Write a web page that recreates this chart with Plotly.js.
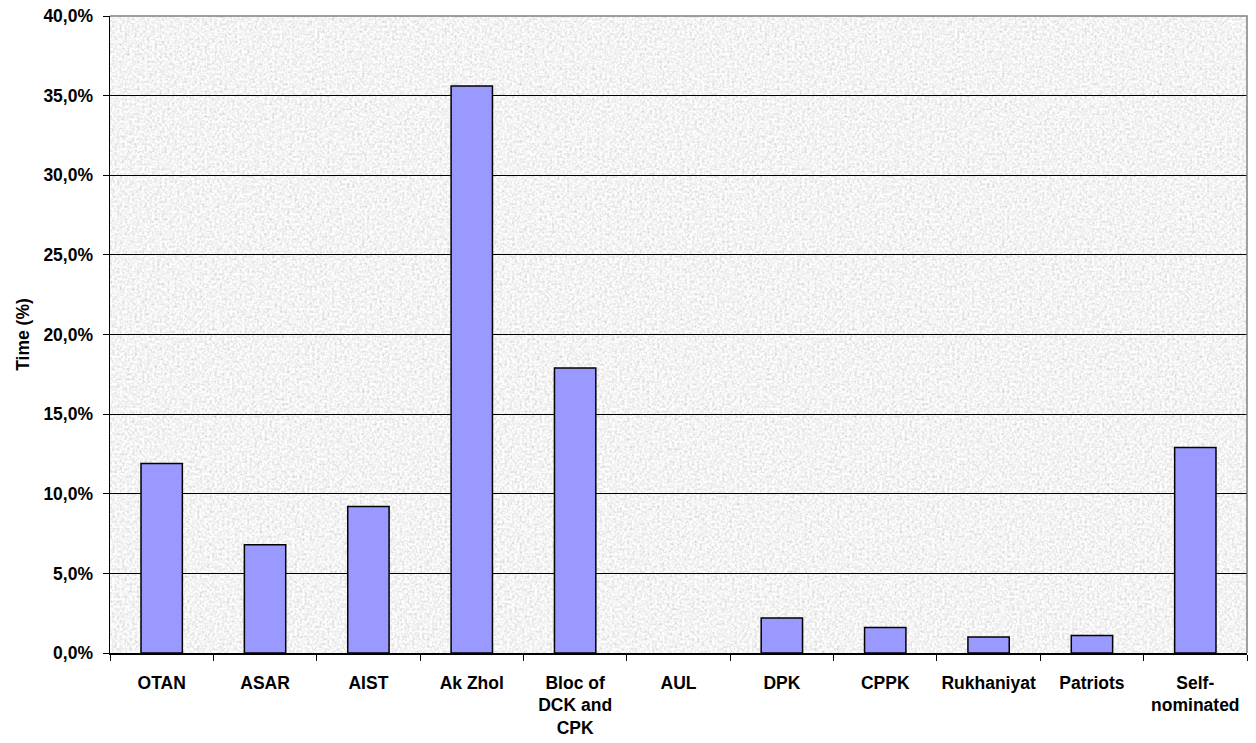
<!DOCTYPE html>
<html>
<head>
<meta charset="utf-8">
<script src="https://cdn.plot.ly/plotly-3.0.1.min.js"></script>
<style>html,body{margin:0;padding:0;background:#fff;}#chart{width:1256px;height:743px;}</style>
</head>
<body>
<div id="chart"></div>
<script>
// Data (percent of time)
var categories = ["OTAN", "ASAR", "AIST", "Ak Zhol", "Bloc of<br>DCK and<br>CPK", "AUL", "DPK", "CPPK", "Rukhaniyat", "Patriots", "Self-<br>nominated"];
var timeShare = [11.9, 6.8, 9.2, 35.6, 17.9, 0, 2.2, 1.6, 1.0, 1.1, 12.9];
var yTickValues = [0, 5, 10, 15, 20, 25, 30, 35, 40];

var noiseSvg = "<svg xmlns='http://www.w3.org/2000/svg' width='1137' height='637'>" +
  "<filter id='n' x='0' y='0' width='100%' height='100%'>" +
  "<feTurbulence type='fractalNoise' baseFrequency='0.4' numOctaves='3' seed='7'/>" +
  "<feColorMatrix type='saturate' values='0'/>" +
  "<feComponentTransfer>" +
  "<feFuncR type='linear' slope='0.8' intercept='0.5'/>" +
  "<feFuncG type='linear' slope='0.8' intercept='0.5'/>" +
  "<feFuncB type='linear' slope='0.8' intercept='0.5'/>" +
  "<feFuncA type='linear' slope='0' intercept='1'/>" +
  "</feComponentTransfer></filter>" +
  "<rect width='100%' height='100%' filter='url(#n)'/></svg>";
var noiseUri = "data:image/svg+xml;charset=utf-8," + encodeURIComponent(noiseSvg);

var fam = "Liberation Sans, Arial, sans-serif";
var boldFont = {family: fam, size: 17.5, color: "#000", weight: "bold"};

var trace = {
  type: "bar",
  x: categories,
  y: timeShare.map(function (v) { return v / 100; }),
  marker: {
    color: "#9999FF",
    line: {color: "#000000", width: timeShare.map(function (v) { return v > 0 ? 1.5 : 0; })}
  },
  hoverinfo: "x+y"
};

var layout = {
  width: 1256,
  height: 743,
  margin: {l: 110, r: 9, t: 16, b: 90, pad: 0},
  paper_bgcolor: "#ffffff",
  plot_bgcolor: "rgba(0,0,0,0)",
  separators: ",.",
  bargap: 0.6,
  showlegend: false,
  font: {family: fam, size: 17.5, color: "#000"},
  xaxis: {
    type: "category",
    tickson: "boundaries",
    ticks: "outside",
    ticklen: 6,
    tickwidth: 1,
    tickcolor: "#000",
    ticklabelstandoff: 13,
    showline: true,
    linecolor: "#000",
    linewidth: 1.5,
    showgrid: false,
    tickangle: 0,
    tickfont: boldFont
  },
  yaxis: {
    range: [0, 0.4],
    tickvals: yTickValues.map(function (v) { return v / 100; }),
    tickformat: ".1%",
    ticks: "outside",
    ticklen: 6,
    tickwidth: 1,
    tickcolor: "#000",
    ticklabelstandoff: 6,
    showline: true,
    linecolor: "#000",
    linewidth: 1.5,
    showgrid: true,
    gridcolor: "#000",
    gridwidth: 1,
    zeroline: false,
    tickfont: boldFont,
    title: {text: "Time (%)", standoff: 9, font: boldFont}
  },
  images: [{
    source: noiseUri,
    xref: "paper", yref: "paper",
    x: 0, y: 1, sizex: 1, sizey: 1,
    xanchor: "left", yanchor: "top",
    sizing: "stretch",
    layer: "below"
  }],
  shapes: [{
    type: "path",
    xref: "paper", yref: "paper",
    path: "M 0,1 L 1,1 L 1,0",
    line: {color: "#808080", width: 1.5},
    layer: "above"
  }]
};

Plotly.newPlot("chart", [trace], layout, {displayModeBar: false, staticPlot: true});
</script>
</body>
</html>
